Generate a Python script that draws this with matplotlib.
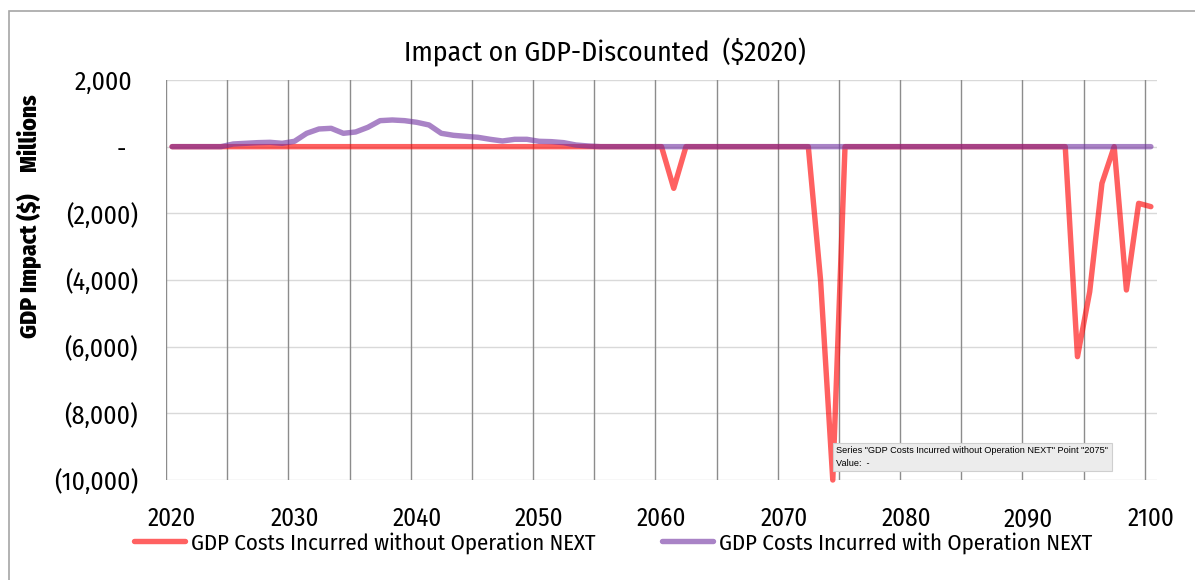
import matplotlib
matplotlib.use('Agg')
import matplotlib.pyplot as plt
from matplotlib.patches import Rectangle
from matplotlib.ticker import FuncFormatter

plt.rcParams['font.family'] = ['Fira Sans Condensed', 'DejaVu Sans']

# category years 2020..2100
years = list(range(2020, 2101))

# GDP impact, millions of $
without_next = [
    0, 0, 0, 0, 0, 0, 0, 0, 0, 0,              # 2020-2029
    0, 0, 0, 0, 0, 0, 0, 0, 0, 0,              # 2030-2039
    0, 0, 0, 0, 0, 0, 0, 0, 0, 0,              # 2040-2049
    0, 0, 0, 0, 0, 0, 0, 0, 0, 0,              # 2050-2059
    0, -1250, 0, 0, 0, 0, 0, 0, 0, 0,          # 2060-2069
    0, 0, 0, -4000, -10000, 0, 0, 0, 0, 0,     # 2070-2079
    0, 0, 0, 0, 0, 0, 0, 0, 0, 0,              # 2080-2089
    0, 0, 0, 0, -6300, -4350, -1100, 0, -4300, -1700,  # 2090-2099
    -1800,                                     # 2100
]
with_next = [
    0, 0, 0, 0, 0, 80, 100, 120, 130, 100,
    160, 400, 530, 550, 400, 440, 580, 780, 800, 780,
    730, 650, 400, 340, 310, 280, 220, 170, 220, 220,
    160, 150, 120, 50, 20, 0, 0, 0, 0, 0,
    0, 0, 0, 0, 0, 0, 0, 0, 0, 0,
    0, 0, 0, 0, 0, 0, 0, 0, 0, 0,
    0, 0, 0, 0, 0, 0, 0, 0, 0, 0,
    0, 0, 0, 0, 0, 0, 0, 0, 0, 0,
    0,
]
series_names = ['GDP Costs Incurred without Operation NEXT',
                'GDP Costs Incurred with Operation NEXT']
y_ticks = [2000, 0, -2000, -4000, -6000, -8000, -10000]
x_labels = [2020, 2030, 2040, 2050, 2060, 2070, 2080, 2090, 2100]


def money(v, pos=None):
    # accounting style: dash for zero, brackets for negatives
    if v == 0:
        return '-  '
    if v < 0:
        return '({:,.0f})'.format(-v)
    return '{:,.0f} '.format(v)


fig = plt.figure(figsize=(11.95, 5.8), dpi=100)
ax = fig.add_axes([0.1389, 0.1724, 0.8293, 0.6897])

# outer chart border (gray, cropped on the right/bottom)
fig.patches.append(Rectangle((9 / 1195, -0.2), 1.2, 1 - 11 / 580 + 0.2,
                             transform=fig.transFigure, fill=False,
                             edgecolor='#a6a6a6', lw=1.2))

ax.plot(years, without_next, color='#FF0000', alpha=0.62, lw=3.9,
        solid_joinstyle='round', solid_capstyle='round', zorder=3, clip_on=False)
ax.plot(years, with_next, color='#7030A0', alpha=0.6, lw=3.9,
        solid_joinstyle='round', solid_capstyle='round', zorder=4, clip_on=False)

ax.set_xlim(2019.5, 2100.5)
ax.set_ylim(-10000, 2000)

# horizontal gridlines light, vertical category lines darker
for v in y_ticks:
    ax.axhline(v, color='#d9d9d9', lw=1.0, zorder=1)
for k in range(17):
    ax.axvline(2019.5 + 5 * k, color='#8c8c8c', lw=1.0, zorder=1)

for s in ax.spines.values():
    s.set_visible(False)

ax.set_yticks(y_ticks)
ax.yaxis.set_major_formatter(FuncFormatter(money))
ax.set_xticks(x_labels)
ax.tick_params(axis='y', length=0, pad=20, labelsize=18.5)
ax.tick_params(axis='x', length=0, pad=19, labelsize=18)

fig.text(0.506, 0.91, 'Impact on GDP-Discounted  ($2020)', ha='center', va='center',
         fontsize=20)
fig.text(0.025, 0.5414, 'GDP Impact ($)', rotation=90, ha='center', va='center',
         fontsize=17, fontweight='heavy')
fig.text(0.025, 0.7724, 'Millions', rotation=90, ha='center', va='center',
         fontsize=17, fontweight='heavy')

# the hover tooltip captured in the screenshot
ax.text(2074.3, -9310, 'Series "GDP Costs Incurred without Operation NEXT" Point "2075"\nValue:  -',
        fontsize=6.6, va='center', ha='left', family=['Liberation Sans', 'DejaVu Sans'],
        linespacing=1.45,
        bbox=dict(boxstyle='square,pad=0.4', fc='#ececec', ec='#cfcfcf', lw=0.8), zorder=6)

handles = ax.get_lines()[:2]
fig.legend(handles, series_names, loc='center', bbox_to_anchor=(0.513, 0.064), ncol=2,
           frameon=False, fontsize=16.4, handlelength=2.24, handletextpad=0.26,
           columnspacing=2.94, borderpad=0, borderaxespad=0)

fig.savefig('out.png', dpi=100)
